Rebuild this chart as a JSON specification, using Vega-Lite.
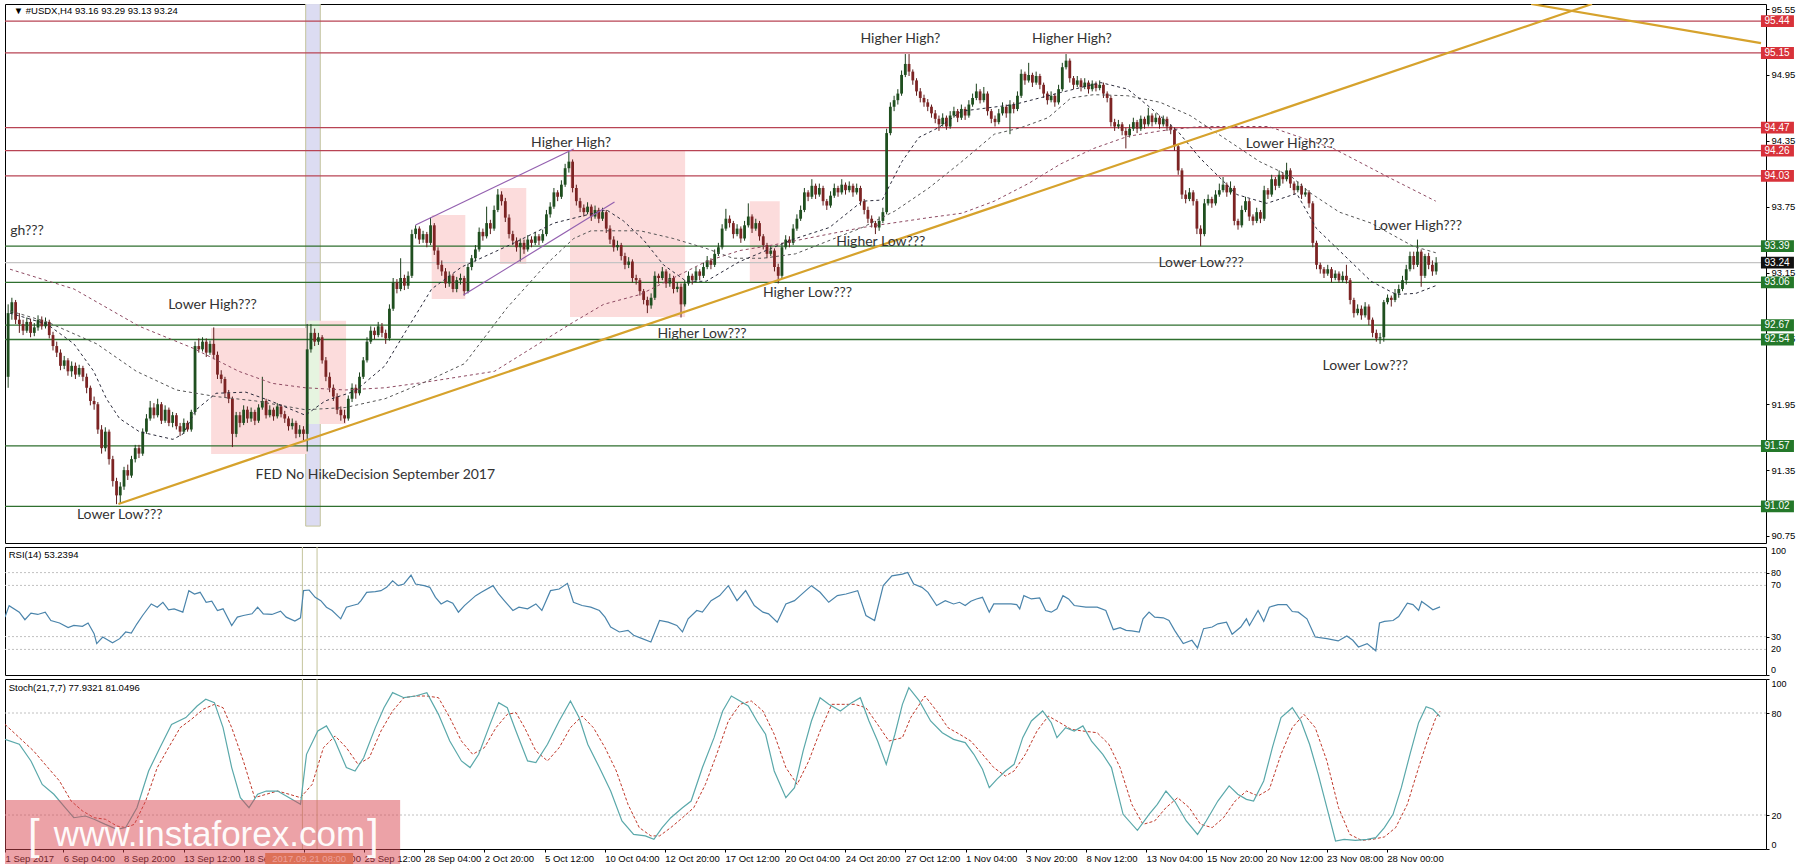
{
"$schema":"https://vega.github.io/schema/vega-lite/v6.json",
"padding":{"left":3,"top":3,"right":0,"bottom":0},
"background":"white",
"bounds":"flush",
"spacing":4,
"config":{"view":{"stroke":"#000","strokeWidth":1},"font":"Liberation Sans","axis":{"labelFont":"Liberation Sans","labelColor":"#000","tickColor":"#000","domain":false,"grid":false,"labelOverlap":false}},
"datasets":{
"candles":[
{"t":0,"o":92.2,"h":92.86,"l":92.1,"c":92.78},{"t":1,"o":92.78,"h":92.92,"l":92.72,"c":92.88},{"t":2,"o":92.88,"h":92.9,"l":92.68,"c":92.72},{"t":3,"o":92.72,"h":92.78,"l":92.6,"c":92.68},{"t":4,"o":92.68,"h":92.72,"l":92.58,"c":92.62},{"t":5,"o":92.62,"h":92.74,"l":92.6,"c":92.7},{"t":6,"o":92.7,"h":92.73,"l":92.56,"c":92.6},{"t":7,"o":92.6,"h":92.69,"l":92.57,"c":92.65},{"t":8,"o":92.65,"h":92.76,"l":92.62,"c":92.72},{"t":9,"o":92.72,"h":92.75,"l":92.63,"c":92.66},
{"t":10,"o":92.66,"h":92.74,"l":92.64,"c":92.7},{"t":11,"o":92.7,"h":92.72,"l":92.55,"c":92.58},{"t":12,"o":92.58,"h":92.61,"l":92.44,"c":92.48},{"t":13,"o":92.48,"h":92.52,"l":92.38,"c":92.42},{"t":14,"o":92.42,"h":92.45,"l":92.26,"c":92.3},{"t":15,"o":92.3,"h":92.39,"l":92.27,"c":92.35},{"t":16,"o":92.35,"h":92.37,"l":92.21,"c":92.25},{"t":17,"o":92.25,"h":92.34,"l":92.2,"c":92.3},{"t":18,"o":92.3,"h":92.33,"l":92.18,"c":92.22},{"t":19,"o":92.22,"h":92.31,"l":92.2,"c":92.28},
{"t":20,"o":92.28,"h":92.3,"l":92.16,"c":92.2},{"t":21,"o":92.2,"h":92.23,"l":92.05,"c":92.1},{"t":22,"o":92.1,"h":92.12,"l":91.94,"c":91.98},{"t":23,"o":91.98,"h":92.02,"l":91.9,"c":91.95},{"t":24,"o":91.95,"h":91.97,"l":91.68,"c":91.72},{"t":25,"o":91.72,"h":91.76,"l":91.5,"c":91.55},{"t":26,"o":91.55,"h":91.74,"l":91.52,"c":91.7},{"t":27,"o":91.7,"h":91.72,"l":91.4,"c":91.45},{"t":28,"o":91.45,"h":91.48,"l":91.2,"c":91.25},{"t":29,"o":91.25,"h":91.28,"l":91.04,"c":91.12},
{"t":30,"o":91.12,"h":91.24,"l":91.05,"c":91.2},{"t":31,"o":91.2,"h":91.38,"l":91.17,"c":91.35},{"t":32,"o":91.35,"h":91.4,"l":91.26,"c":91.3},{"t":33,"o":91.3,"h":91.48,"l":91.28,"c":91.45},{"t":34,"o":91.45,"h":91.58,"l":91.42,"c":91.55},{"t":35,"o":91.55,"h":91.58,"l":91.46,"c":91.5},{"t":36,"o":91.5,"h":91.73,"l":91.48,"c":91.7},{"t":37,"o":91.7,"h":91.86,"l":91.68,"c":91.82},{"t":38,"o":91.82,"h":91.98,"l":91.8,"c":91.92},{"t":39,"o":91.92,"h":91.96,"l":91.82,"c":91.85},
{"t":40,"o":91.85,"h":92.0,"l":91.83,"c":91.95},{"t":41,"o":91.95,"h":91.97,"l":91.77,"c":91.8},{"t":42,"o":91.8,"h":91.94,"l":91.78,"c":91.9},{"t":43,"o":91.9,"h":91.92,"l":91.75,"c":91.78},{"t":44,"o":91.78,"h":91.88,"l":91.74,"c":91.85},{"t":45,"o":91.85,"h":91.87,"l":91.72,"c":91.75},{"t":46,"o":91.75,"h":91.78,"l":91.66,"c":91.7},{"t":47,"o":91.7,"h":91.82,"l":91.68,"c":91.78},{"t":48,"o":91.78,"h":91.8,"l":91.7,"c":91.72},{"t":49,"o":91.72,"h":91.9,"l":91.7,"c":91.88},
{"t":50,"o":91.88,"h":92.52,"l":91.85,"c":92.48},{"t":51,"o":92.48,"h":92.55,"l":92.42,"c":92.45},{"t":52,"o":92.45,"h":92.56,"l":92.43,"c":92.52},{"t":53,"o":92.52,"h":92.55,"l":92.38,"c":92.42},{"t":54,"o":92.42,"h":92.53,"l":92.4,"c":92.5},{"t":55,"o":92.5,"h":92.65,"l":92.36,"c":92.4},{"t":56,"o":92.4,"h":92.43,"l":92.18,"c":92.22},{"t":57,"o":92.22,"h":92.26,"l":92.14,"c":92.18},{"t":58,"o":92.18,"h":92.2,"l":92.01,"c":92.05},{"t":59,"o":92.05,"h":92.08,"l":91.96,"c":92.0},
{"t":60,"o":92.0,"h":92.02,"l":91.56,"c":91.68},{"t":61,"o":91.68,"h":91.88,"l":91.65,"c":91.85},{"t":62,"o":91.85,"h":91.88,"l":91.74,"c":91.78},{"t":63,"o":91.78,"h":91.94,"l":91.76,"c":91.9},{"t":64,"o":91.9,"h":91.93,"l":91.78,"c":91.82},{"t":65,"o":91.82,"h":91.92,"l":91.79,"c":91.88},{"t":66,"o":91.88,"h":91.9,"l":91.76,"c":91.8},{"t":67,"o":91.8,"h":91.95,"l":91.78,"c":91.92},{"t":68,"o":91.92,"h":92.2,"l":91.9,"c":91.98},{"t":69,"o":91.98,"h":92.0,"l":91.82,"c":91.85},
{"t":70,"o":91.85,"h":91.94,"l":91.83,"c":91.9},{"t":71,"o":91.9,"h":91.92,"l":91.8,"c":91.84},{"t":72,"o":91.84,"h":91.96,"l":91.82,"c":91.93},{"t":73,"o":91.93,"h":91.95,"l":91.83,"c":91.86},{"t":74,"o":91.86,"h":91.89,"l":91.78,"c":91.82},{"t":75,"o":91.82,"h":91.84,"l":91.71,"c":91.75},{"t":76,"o":91.75,"h":91.82,"l":91.72,"c":91.78},{"t":77,"o":91.78,"h":91.8,"l":91.64,"c":91.68},{"t":78,"o":91.68,"h":91.76,"l":91.65,"c":91.72},{"t":79,"o":91.72,"h":91.75,"l":91.62,"c":91.68},
{"t":80,"o":91.68,"h":92.68,"l":91.52,"c":92.45},{"t":81,"o":92.45,"h":92.68,"l":92.42,"c":92.6},{"t":82,"o":92.6,"h":92.64,"l":92.48,"c":92.52},{"t":83,"o":92.52,"h":92.6,"l":92.49,"c":92.56},{"t":84,"o":92.56,"h":92.58,"l":92.32,"c":92.35},{"t":85,"o":92.35,"h":92.38,"l":92.16,"c":92.2},{"t":86,"o":92.2,"h":92.24,"l":92.06,"c":92.1},{"t":87,"o":92.1,"h":92.13,"l":91.98,"c":92.02},{"t":88,"o":92.02,"h":92.05,"l":91.86,"c":91.9},{"t":89,"o":91.9,"h":91.93,"l":91.8,"c":91.85},
{"t":90,"o":91.85,"h":91.9,"l":91.78,"c":91.82},{"t":91,"o":91.82,"h":92.03,"l":91.8,"c":92.0},{"t":92,"o":92.0,"h":92.14,"l":91.97,"c":92.1},{"t":93,"o":92.1,"h":92.13,"l":92.0,"c":92.05},{"t":94,"o":92.05,"h":92.24,"l":92.03,"c":92.2},{"t":95,"o":92.2,"h":92.38,"l":92.18,"c":92.35},{"t":96,"o":92.35,"h":92.56,"l":92.33,"c":92.52},{"t":97,"o":92.52,"h":92.66,"l":92.5,"c":92.62},{"t":98,"o":92.62,"h":92.65,"l":92.54,"c":92.58},{"t":99,"o":92.58,"h":92.7,"l":92.56,"c":92.66},
{"t":100,"o":92.66,"h":92.69,"l":92.56,"c":92.6},{"t":101,"o":92.6,"h":92.63,"l":92.5,"c":92.55},{"t":102,"o":92.55,"h":92.86,"l":92.53,"c":92.82},{"t":103,"o":92.82,"h":93.1,"l":92.8,"c":93.06},{"t":104,"o":93.06,"h":93.09,"l":92.96,"c":93.0},{"t":105,"o":93.0,"h":93.28,"l":92.98,"c":93.1},{"t":106,"o":93.1,"h":93.13,"l":92.99,"c":93.03},{"t":107,"o":93.03,"h":93.16,"l":93.0,"c":93.12},{"t":108,"o":93.12,"h":93.54,"l":93.1,"c":93.5},{"t":109,"o":93.5,"h":93.58,"l":93.46,"c":93.55},
{"t":110,"o":93.55,"h":93.57,"l":93.41,"c":93.45},{"t":111,"o":93.45,"h":93.53,"l":93.42,"c":93.5},{"t":112,"o":93.5,"h":93.52,"l":93.38,"c":93.42},{"t":113,"o":93.42,"h":93.65,"l":93.4,"c":93.58},{"t":114,"o":93.58,"h":93.6,"l":93.31,"c":93.35},{"t":115,"o":93.35,"h":93.38,"l":93.18,"c":93.22},{"t":116,"o":93.22,"h":93.26,"l":93.12,"c":93.16},{"t":117,"o":93.16,"h":93.19,"l":93.01,"c":93.05},{"t":118,"o":93.05,"h":93.16,"l":93.02,"c":93.12},{"t":119,"o":93.12,"h":93.14,"l":92.97,"c":93.0},
{"t":120,"o":93.0,"h":93.11,"l":92.97,"c":93.08},{"t":121,"o":93.08,"h":93.14,"l":93.04,"c":93.1},{"t":122,"o":93.1,"h":93.12,"l":92.94,"c":92.98},{"t":123,"o":92.98,"h":93.23,"l":92.96,"c":93.2},{"t":124,"o":93.2,"h":93.31,"l":93.17,"c":93.28},{"t":125,"o":93.28,"h":93.4,"l":93.25,"c":93.36},{"t":126,"o":93.36,"h":93.56,"l":93.34,"c":93.52},{"t":127,"o":93.52,"h":93.55,"l":93.44,"c":93.48},{"t":128,"o":93.48,"h":93.75,"l":93.46,"c":93.6},{"t":129,"o":93.6,"h":93.63,"l":93.5,"c":93.55},
{"t":130,"o":93.55,"h":93.76,"l":93.53,"c":93.72},{"t":131,"o":93.72,"h":93.91,"l":93.7,"c":93.86},{"t":132,"o":93.86,"h":93.89,"l":93.76,"c":93.8},{"t":133,"o":93.8,"h":93.83,"l":93.61,"c":93.65},{"t":134,"o":93.65,"h":93.68,"l":93.46,"c":93.5},{"t":135,"o":93.5,"h":93.53,"l":93.4,"c":93.44},{"t":136,"o":93.44,"h":93.47,"l":93.34,"c":93.38},{"t":137,"o":93.38,"h":93.46,"l":93.25,"c":93.42},{"t":138,"o":93.42,"h":93.45,"l":93.32,"c":93.36},{"t":139,"o":93.36,"h":93.49,"l":93.34,"c":93.45},
{"t":140,"o":93.45,"h":93.48,"l":93.38,"c":93.42},{"t":141,"o":93.42,"h":93.52,"l":93.4,"c":93.48},{"t":142,"o":93.48,"h":93.5,"l":93.4,"c":93.44},{"t":143,"o":93.44,"h":93.54,"l":93.42,"c":93.5},{"t":144,"o":93.5,"h":93.72,"l":93.48,"c":93.68},{"t":145,"o":93.68,"h":93.79,"l":93.65,"c":93.75},{"t":146,"o":93.75,"h":93.92,"l":93.73,"c":93.88},{"t":147,"o":93.88,"h":93.9,"l":93.8,"c":93.84},{"t":148,"o":93.84,"h":93.99,"l":93.82,"c":93.95},{"t":149,"o":93.95,"h":94.14,"l":93.93,"c":94.1},
{"t":150,"o":94.1,"h":94.25,"l":94.06,"c":94.16},{"t":151,"o":94.16,"h":94.18,"l":93.88,"c":93.92},{"t":152,"o":93.92,"h":93.95,"l":93.76,"c":93.8},{"t":153,"o":93.8,"h":93.83,"l":93.7,"c":93.74},{"t":154,"o":93.74,"h":93.77,"l":93.66,"c":93.7},{"t":155,"o":93.7,"h":93.79,"l":93.68,"c":93.75},{"t":156,"o":93.75,"h":93.77,"l":93.62,"c":93.66},{"t":157,"o":93.66,"h":93.76,"l":93.64,"c":93.72},{"t":158,"o":93.72,"h":93.74,"l":93.6,"c":93.64},{"t":159,"o":93.64,"h":93.74,"l":93.62,"c":93.7},
{"t":160,"o":93.7,"h":93.72,"l":93.51,"c":93.55},{"t":161,"o":93.55,"h":93.58,"l":93.41,"c":93.45},{"t":162,"o":93.45,"h":93.48,"l":93.34,"c":93.38},{"t":163,"o":93.38,"h":93.44,"l":93.35,"c":93.4},{"t":164,"o":93.4,"h":93.42,"l":93.26,"c":93.3},{"t":165,"o":93.3,"h":93.33,"l":93.18,"c":93.22},{"t":166,"o":93.22,"h":93.29,"l":93.19,"c":93.25},{"t":167,"o":93.25,"h":93.27,"l":93.06,"c":93.1},{"t":168,"o":93.1,"h":93.13,"l":93.04,"c":93.08},{"t":169,"o":93.08,"h":93.1,"l":92.94,"c":92.98},
{"t":170,"o":92.98,"h":93.0,"l":92.86,"c":92.9},{"t":171,"o":92.9,"h":92.93,"l":92.78,"c":92.85},{"t":172,"o":92.85,"h":92.96,"l":92.82,"c":92.92},{"t":173,"o":92.92,"h":93.16,"l":92.9,"c":93.12},{"t":174,"o":93.12,"h":93.14,"l":93.05,"c":93.1},{"t":175,"o":93.1,"h":93.2,"l":93.08,"c":93.16},{"t":176,"o":93.16,"h":93.18,"l":93.01,"c":93.05},{"t":177,"o":93.05,"h":93.14,"l":93.02,"c":93.1},{"t":178,"o":93.1,"h":93.12,"l":92.96,"c":93.0},{"t":179,"o":93.0,"h":93.06,"l":92.97,"c":93.02},
{"t":180,"o":93.02,"h":93.05,"l":92.74,"c":92.86},{"t":181,"o":92.86,"h":93.08,"l":92.84,"c":93.05},{"t":182,"o":93.05,"h":93.16,"l":93.03,"c":93.12},{"t":183,"o":93.12,"h":93.14,"l":93.04,"c":93.08},{"t":184,"o":93.08,"h":93.2,"l":93.06,"c":93.16},{"t":185,"o":93.16,"h":93.18,"l":93.08,"c":93.12},{"t":186,"o":93.12,"h":93.24,"l":93.1,"c":93.2},{"t":187,"o":93.2,"h":93.3,"l":93.18,"c":93.26},{"t":188,"o":93.26,"h":93.28,"l":93.18,"c":93.22},{"t":189,"o":93.22,"h":93.36,"l":93.2,"c":93.32},
{"t":190,"o":93.32,"h":93.42,"l":93.3,"c":93.38},{"t":191,"o":93.38,"h":93.59,"l":93.36,"c":93.55},{"t":192,"o":93.55,"h":93.73,"l":93.53,"c":93.64},{"t":193,"o":93.64,"h":93.67,"l":93.56,"c":93.6},{"t":194,"o":93.6,"h":93.62,"l":93.46,"c":93.5},{"t":195,"o":93.5,"h":93.59,"l":93.48,"c":93.55},{"t":196,"o":93.55,"h":93.57,"l":93.42,"c":93.46},{"t":197,"o":93.46,"h":93.62,"l":93.44,"c":93.58},{"t":198,"o":93.58,"h":93.78,"l":93.56,"c":93.66},{"t":199,"o":93.66,"h":93.68,"l":93.51,"c":93.55},
{"t":200,"o":93.55,"h":93.64,"l":93.53,"c":93.6},{"t":201,"o":93.6,"h":93.62,"l":93.44,"c":93.48},{"t":202,"o":93.48,"h":93.5,"l":93.36,"c":93.4},{"t":203,"o":93.4,"h":93.42,"l":93.28,"c":93.32},{"t":204,"o":93.32,"h":93.39,"l":93.3,"c":93.35},{"t":205,"o":93.35,"h":93.37,"l":93.16,"c":93.2},{"t":206,"o":93.2,"h":93.23,"l":93.05,"c":93.12},{"t":207,"o":93.12,"h":93.42,"l":93.1,"c":93.38},{"t":208,"o":93.38,"h":93.49,"l":93.36,"c":93.45},{"t":209,"o":93.45,"h":93.48,"l":93.38,"c":93.42},
{"t":210,"o":93.42,"h":93.59,"l":93.4,"c":93.55},{"t":211,"o":93.55,"h":93.68,"l":93.53,"c":93.64},{"t":212,"o":93.64,"h":93.76,"l":93.62,"c":93.72},{"t":213,"o":93.72,"h":93.92,"l":93.7,"c":93.88},{"t":214,"o":93.88,"h":93.9,"l":93.8,"c":93.84},{"t":215,"o":93.84,"h":94.0,"l":93.82,"c":93.94},{"t":216,"o":93.94,"h":93.96,"l":93.82,"c":93.86},{"t":217,"o":93.86,"h":93.96,"l":93.84,"c":93.92},{"t":218,"o":93.92,"h":93.94,"l":93.76,"c":93.8},{"t":219,"o":93.8,"h":93.82,"l":93.72,"c":93.76},
{"t":220,"o":93.76,"h":93.89,"l":93.74,"c":93.85},{"t":221,"o":93.85,"h":93.96,"l":93.83,"c":93.92},{"t":222,"o":93.92,"h":93.94,"l":93.84,"c":93.88},{"t":223,"o":93.88,"h":94.0,"l":93.86,"c":93.95},{"t":224,"o":93.95,"h":93.97,"l":93.86,"c":93.9},{"t":225,"o":93.9,"h":93.98,"l":93.88,"c":93.94},{"t":226,"o":93.94,"h":93.96,"l":93.84,"c":93.88},{"t":227,"o":93.88,"h":93.96,"l":93.86,"c":93.92},{"t":228,"o":93.92,"h":93.94,"l":93.76,"c":93.8},{"t":229,"o":93.8,"h":93.82,"l":93.68,"c":93.72},
{"t":230,"o":93.72,"h":93.75,"l":93.6,"c":93.64},{"t":231,"o":93.64,"h":93.67,"l":93.56,"c":93.6},{"t":232,"o":93.6,"h":93.62,"l":93.5,"c":93.56},{"t":233,"o":93.56,"h":93.66,"l":93.53,"c":93.62},{"t":234,"o":93.62,"h":93.74,"l":93.6,"c":93.7},{"t":235,"o":93.7,"h":94.46,"l":93.68,"c":94.42},{"t":236,"o":94.42,"h":94.7,"l":94.4,"c":94.66},{"t":237,"o":94.66,"h":94.76,"l":94.62,"c":94.72},{"t":238,"o":94.72,"h":94.82,"l":94.68,"c":94.78},{"t":239,"o":94.78,"h":94.99,"l":94.76,"c":94.95},
{"t":240,"o":94.95,"h":95.14,"l":94.93,"c":95.05},{"t":241,"o":95.05,"h":95.14,"l":94.94,"c":94.98},{"t":242,"o":94.98,"h":95.0,"l":94.86,"c":94.9},{"t":243,"o":94.9,"h":94.92,"l":94.76,"c":94.8},{"t":244,"o":94.8,"h":94.83,"l":94.7,"c":94.74},{"t":245,"o":94.74,"h":94.77,"l":94.66,"c":94.7},{"t":246,"o":94.7,"h":94.73,"l":94.62,"c":94.66},{"t":247,"o":94.66,"h":94.68,"l":94.56,"c":94.6},{"t":248,"o":94.6,"h":94.63,"l":94.51,"c":94.55},{"t":249,"o":94.55,"h":94.58,"l":94.44,"c":94.5},
{"t":250,"o":94.5,"h":94.6,"l":94.48,"c":94.56},{"t":251,"o":94.56,"h":94.58,"l":94.45,"c":94.48},{"t":252,"o":94.48,"h":94.62,"l":94.46,"c":94.58},{"t":253,"o":94.58,"h":94.66,"l":94.56,"c":94.62},{"t":254,"o":94.62,"h":94.64,"l":94.52,"c":94.56},{"t":255,"o":94.56,"h":94.68,"l":94.54,"c":94.64},{"t":256,"o":94.64,"h":94.66,"l":94.54,"c":94.58},{"t":257,"o":94.58,"h":94.72,"l":94.56,"c":94.68},{"t":258,"o":94.68,"h":94.78,"l":94.66,"c":94.74},{"t":259,"o":94.74,"h":94.87,"l":94.72,"c":94.8},
{"t":260,"o":94.8,"h":94.82,"l":94.69,"c":94.72},{"t":261,"o":94.72,"h":94.84,"l":94.7,"c":94.78},{"t":262,"o":94.78,"h":94.8,"l":94.58,"c":94.62},{"t":263,"o":94.62,"h":94.64,"l":94.51,"c":94.55},{"t":264,"o":94.55,"h":94.58,"l":94.48,"c":94.52},{"t":265,"o":94.52,"h":94.64,"l":94.5,"c":94.6},{"t":266,"o":94.6,"h":94.7,"l":94.58,"c":94.66},{"t":267,"o":94.66,"h":94.68,"l":94.56,"c":94.6},{"t":268,"o":94.6,"h":94.72,"l":94.41,"c":94.68},{"t":269,"o":94.68,"h":94.7,"l":94.6,"c":94.64},
{"t":270,"o":94.64,"h":94.8,"l":94.62,"c":94.76},{"t":271,"o":94.76,"h":95.0,"l":94.74,"c":94.96},{"t":272,"o":94.96,"h":94.98,"l":94.86,"c":94.9},{"t":273,"o":94.9,"h":95.06,"l":94.88,"c":94.95},{"t":274,"o":94.95,"h":94.97,"l":94.84,"c":94.88},{"t":275,"o":94.88,"h":94.98,"l":94.86,"c":94.94},{"t":276,"o":94.94,"h":94.96,"l":94.82,"c":94.86},{"t":277,"o":94.86,"h":94.88,"l":94.74,"c":94.78},{"t":278,"o":94.78,"h":94.8,"l":94.68,"c":94.72},{"t":279,"o":94.72,"h":94.8,"l":94.7,"c":94.76},
{"t":280,"o":94.76,"h":94.78,"l":94.66,"c":94.7},{"t":281,"o":94.7,"h":94.86,"l":94.68,"c":94.82},{"t":282,"o":94.82,"h":95.06,"l":94.8,"c":95.02},{"t":283,"o":95.02,"h":95.14,"l":95.0,"c":95.08},{"t":284,"o":95.08,"h":95.1,"l":94.88,"c":94.92},{"t":285,"o":94.92,"h":94.94,"l":94.82,"c":94.86},{"t":286,"o":94.86,"h":94.94,"l":94.84,"c":94.9},{"t":287,"o":94.9,"h":94.92,"l":94.8,"c":94.84},{"t":288,"o":94.84,"h":94.92,"l":94.82,"c":94.88},{"t":289,"o":94.88,"h":94.9,"l":94.78,"c":94.82},
{"t":290,"o":94.82,"h":94.9,"l":94.8,"c":94.87},{"t":291,"o":94.87,"h":94.89,"l":94.8,"c":94.83},{"t":292,"o":94.83,"h":94.9,"l":94.81,"c":94.86},{"t":293,"o":94.86,"h":94.88,"l":94.74,"c":94.78},{"t":294,"o":94.78,"h":94.8,"l":94.7,"c":94.74},{"t":295,"o":94.74,"h":94.76,"l":94.48,"c":94.52},{"t":296,"o":94.52,"h":94.55,"l":94.44,"c":94.48},{"t":297,"o":94.48,"h":94.54,"l":94.46,"c":94.5},{"t":298,"o":94.5,"h":94.52,"l":94.4,"c":94.44},{"t":299,"o":94.44,"h":94.47,"l":94.28,"c":94.4},
{"t":300,"o":94.4,"h":94.5,"l":94.38,"c":94.46},{"t":301,"o":94.46,"h":94.56,"l":94.44,"c":94.52},{"t":302,"o":94.52,"h":94.54,"l":94.42,"c":94.46},{"t":303,"o":94.46,"h":94.58,"l":94.44,"c":94.55},{"t":304,"o":94.55,"h":94.57,"l":94.46,"c":94.5},{"t":305,"o":94.5,"h":94.65,"l":94.48,"c":94.58},{"t":306,"o":94.58,"h":94.6,"l":94.48,"c":94.52},{"t":307,"o":94.52,"h":94.6,"l":94.5,"c":94.56},{"t":308,"o":94.56,"h":94.58,"l":94.46,"c":94.5},{"t":309,"o":94.5,"h":94.58,"l":94.48,"c":94.55},
{"t":310,"o":94.55,"h":94.57,"l":94.44,"c":94.48},{"t":311,"o":94.48,"h":94.5,"l":94.41,"c":94.45},{"t":312,"o":94.45,"h":94.47,"l":94.26,"c":94.3},{"t":313,"o":94.3,"h":94.32,"l":94.04,"c":94.08},{"t":314,"o":94.08,"h":94.1,"l":93.82,"c":93.86},{"t":315,"o":93.86,"h":93.9,"l":93.78,"c":93.82},{"t":316,"o":93.82,"h":93.92,"l":93.8,"c":93.88},{"t":317,"o":93.88,"h":93.9,"l":93.76,"c":93.8},{"t":318,"o":93.8,"h":93.82,"l":93.5,"c":93.55},{"t":319,"o":93.55,"h":93.58,"l":93.39,"c":93.5},
{"t":320,"o":93.5,"h":93.82,"l":93.48,"c":93.78},{"t":321,"o":93.78,"h":93.86,"l":93.76,"c":93.82},{"t":322,"o":93.82,"h":93.84,"l":93.74,"c":93.78},{"t":323,"o":93.78,"h":93.9,"l":93.76,"c":93.86},{"t":324,"o":93.86,"h":93.96,"l":93.84,"c":93.9},{"t":325,"o":93.9,"h":94.02,"l":93.88,"c":93.95},{"t":326,"o":93.95,"h":93.97,"l":93.84,"c":93.88},{"t":327,"o":93.88,"h":93.98,"l":93.86,"c":93.92},{"t":328,"o":93.92,"h":93.94,"l":93.58,"c":93.62},{"t":329,"o":93.62,"h":93.64,"l":93.54,"c":93.58},
{"t":330,"o":93.58,"h":93.76,"l":93.56,"c":93.72},{"t":331,"o":93.72,"h":93.84,"l":93.7,"c":93.8},{"t":332,"o":93.8,"h":93.82,"l":93.62,"c":93.66},{"t":333,"o":93.66,"h":93.68,"l":93.58,"c":93.62},{"t":334,"o":93.62,"h":93.74,"l":93.6,"c":93.7},{"t":335,"o":93.7,"h":93.72,"l":93.6,"c":93.64},{"t":336,"o":93.64,"h":93.94,"l":93.62,"c":93.9},{"t":337,"o":93.9,"h":93.92,"l":93.82,"c":93.86},{"t":338,"o":93.86,"h":94.04,"l":93.84,"c":94.0},{"t":339,"o":94.0,"h":94.02,"l":93.9,"c":93.94},
{"t":340,"o":93.94,"h":94.08,"l":93.92,"c":94.04},{"t":341,"o":94.04,"h":94.06,"l":93.96,"c":94.0},{"t":342,"o":94.0,"h":94.15,"l":93.98,"c":94.08},{"t":343,"o":94.08,"h":94.1,"l":93.92,"c":93.96},{"t":344,"o":93.96,"h":93.98,"l":93.86,"c":93.9},{"t":345,"o":93.9,"h":93.98,"l":93.88,"c":93.94},{"t":346,"o":93.94,"h":93.96,"l":93.82,"c":93.86},{"t":347,"o":93.86,"h":93.92,"l":93.84,"c":93.88},{"t":348,"o":93.88,"h":93.9,"l":93.74,"c":93.78},{"t":349,"o":93.78,"h":93.8,"l":93.38,"c":93.42},
{"t":350,"o":93.42,"h":93.44,"l":93.18,"c":93.22},{"t":351,"o":93.22,"h":93.24,"l":93.14,"c":93.18},{"t":352,"o":93.18,"h":93.2,"l":93.1,"c":93.14},{"t":353,"o":93.14,"h":93.22,"l":93.12,"c":93.18},{"t":354,"o":93.18,"h":93.2,"l":93.06,"c":93.1},{"t":355,"o":93.1,"h":93.17,"l":93.08,"c":93.14},{"t":356,"o":93.14,"h":93.16,"l":93.06,"c":93.08},{"t":357,"o":93.08,"h":93.16,"l":93.06,"c":93.12},{"t":358,"o":93.12,"h":93.22,"l":93.05,"c":93.08},{"t":359,"o":93.08,"h":93.1,"l":92.86,"c":92.9},
{"t":360,"o":92.9,"h":92.92,"l":92.74,"c":92.78},{"t":361,"o":92.78,"h":92.86,"l":92.76,"c":92.82},{"t":362,"o":92.82,"h":92.85,"l":92.72,"c":92.76},{"t":363,"o":92.76,"h":92.88,"l":92.74,"c":92.84},{"t":364,"o":92.84,"h":92.86,"l":92.67,"c":92.72},{"t":365,"o":92.72,"h":92.74,"l":92.56,"c":92.6},{"t":366,"o":92.6,"h":92.63,"l":92.52,"c":92.55},{"t":367,"o":92.55,"h":92.6,"l":92.5,"c":92.56},{"t":368,"o":92.56,"h":92.9,"l":92.52,"c":92.88},{"t":369,"o":92.88,"h":92.95,"l":92.86,"c":92.92},
{"t":370,"o":92.92,"h":92.94,"l":92.84,"c":92.9},{"t":371,"o":92.9,"h":93.0,"l":92.88,"c":92.96},{"t":372,"o":92.96,"h":93.04,"l":92.92,"c":93.0},{"t":373,"o":93.0,"h":93.12,"l":92.98,"c":93.08},{"t":374,"o":93.08,"h":93.22,"l":93.04,"c":93.18},{"t":375,"o":93.18,"h":93.34,"l":93.16,"c":93.3},{"t":376,"o":93.3,"h":93.34,"l":93.18,"c":93.22},{"t":377,"o":93.22,"h":93.45,"l":93.2,"c":93.34},{"t":378,"o":93.34,"h":93.36,"l":93.02,"c":93.12},{"t":379,"o":93.12,"h":93.32,"l":93.1,"c":93.3},
{"t":380,"o":93.3,"h":93.33,"l":93.18,"c":93.22},{"t":381,"o":93.22,"h":93.26,"l":93.12,"c":93.16},{"t":382,"o":93.16,"h":93.29,"l":93.13,"c":93.24}
],
"ma":[
{"m":"f","i":0.5,"p":92.78},{"m":"f","i":10.4,"p":92.68},{"m":"f","i":17.6,"p":92.5},{"m":"f","i":22.9,"p":92.25},{"m":"f","i":26.3,"p":92.0},{"m":"f","i":29.8,"p":91.82},{"m":"f","i":35.1,"p":91.7},{"m":"f","i":44.1,"p":91.63},{"m":"f","i":46.8,"p":91.68},{"m":"f","i":50.3,"p":91.9},{"m":"f","i":55.6,"p":92.05},{"m":"f","i":63.6,"p":92.06},{"m":"f","i":70.2,"p":91.98},{"m":"f","i":79.5,"p":91.85},{"m":"f","i":84.8,"p":91.98},{"m":"f","i":92.8,"p":92.07},{"m":"f","i":100.8,"p":92.3},{"m":"f","i":106.1,"p":92.6},{"m":"f","i":113.3,"p":93.0},{"m":"f","i":121.3,"p":93.2},{"m":"f","i":135.4,"p":93.42},{"m":"f","i":146.0,"p":93.6},{"m":"f","i":160.1,"p":93.72},{"m":"f","i":164.6,"p":93.62},{"m":"f","i":169.9,"p":93.45},{"m":"f","i":175.3,"p":93.22},{"m":"f","i":181.4,"p":93.07},{"m":"f","i":186.7,"p":93.07},{"m":"f","i":195.7,"p":93.25},{"m":"f","i":209.8,"p":93.45},{"m":"f","i":219.7,"p":93.56},{"m":"f","i":228.5,"p":93.8},{"m":"f","i":233.8,"p":93.81},{"m":"f","i":239.1,"p":94.16},{"m":"f","i":243.6,"p":94.38},{"m":"f","i":248.9,"p":94.47},{"m":"f","i":255.1,"p":94.62},{"m":"f","i":269.1,"p":94.68},{"m":"f","i":281.6,"p":94.79},{"m":"f","i":292.3,"p":94.88},{"m":"f","i":299.5,"p":94.82},{"m":"f","i":305.6,"p":94.65},{"m":"f","i":312.8,"p":94.44},{"m":"f","i":318.9,"p":94.19},{"m":"f","i":328.7,"p":93.86},{"m":"f","i":336.7,"p":93.78},{"m":"f","i":344.7,"p":93.87},{"m":"f","i":350.0,"p":93.55},{"m":"f","i":356.1,"p":93.35},{"m":"f","i":364.6,"p":93.07},{"m":"f","i":371.3,"p":92.95},{"m":"f","i":376.6,"p":92.96},{"m":"f","i":381.9,"p":93.03},
{"m":"m","i":0.5,"p":92.8},{"m":"m","i":10.4,"p":92.7},{"m":"m","i":23.7,"p":92.5},{"m":"m","i":34.3,"p":92.25},{"m":"m","i":45.0,"p":92.08},{"m":"m","i":55.6,"p":92.02},{"m":"m","i":66.2,"p":91.98},{"m":"m","i":79.5,"p":91.9},{"m":"m","i":90.2,"p":91.92},{"m":"m","i":100.8,"p":92.0},{"m":"m","i":111.4,"p":92.15},{"m":"m","i":122.1,"p":92.32},{"m":"m","i":133.5,"p":92.83},{"m":"m","i":144.1,"p":93.23},{"m":"m","i":151.3,"p":93.46},{"m":"m","i":155.9,"p":93.53},{"m":"m","i":169.1,"p":93.53},{"m":"m","i":177.9,"p":93.46},{"m":"m","i":186.7,"p":93.37},{"m":"m","i":193.9,"p":93.28},{"m":"m","i":201.9,"p":93.28},{"m":"m","i":210.6,"p":93.32},{"m":"m","i":228.5,"p":93.56},{"m":"m","i":237.2,"p":93.71},{"m":"m","i":246.3,"p":93.92},{"m":"m","i":255.1,"p":94.16},{"m":"m","i":263.8,"p":94.41},{"m":"m","i":271.0,"p":94.47},{"m":"m","i":278.2,"p":94.56},{"m":"m","i":284.3,"p":94.74},{"m":"m","i":290.4,"p":94.77},{"m":"m","i":299.5,"p":94.76},{"m":"m","i":308.2,"p":94.7},{"m":"m","i":316.2,"p":94.58},{"m":"m","i":324.2,"p":94.4},{"m":"m","i":334.8,"p":94.16},{"m":"m","i":343.4,"p":94.02},{"m":"m","i":348.1,"p":93.88},{"m":"m","i":356.1,"p":93.7},{"m":"m","i":364.6,"p":93.6},{"m":"m","i":375.8,"p":93.39},{"m":"m","i":381.9,"p":93.33},
{"m":"s","i":0.5,"p":93.18},{"m":"s","i":17.6,"p":93.0},{"m":"s","i":35.1,"p":92.66},{"m":"s","i":49.5,"p":92.46},{"m":"s","i":61.7,"p":92.25},{"m":"s","i":70.7,"p":92.14},{"m":"s","i":79.5,"p":92.1},{"m":"s","i":90.2,"p":92.08},{"m":"s","i":100.8,"p":92.1},{"m":"s","i":111.4,"p":92.15},{"m":"s","i":130.1,"p":92.25},{"m":"s","i":151.3,"p":92.7},{"m":"s","i":159.3,"p":92.86},{"m":"s","i":169.1,"p":92.95},{"m":"s","i":177.9,"p":93.1},{"m":"s","i":186.7,"p":93.25},{"m":"s","i":195.7,"p":93.35},{"m":"s","i":204.5,"p":93.4},{"m":"s","i":210.6,"p":93.44},{"m":"s","i":228.5,"p":93.56},{"m":"s","i":246.3,"p":93.65},{"m":"s","i":255.1,"p":93.69},{"m":"s","i":263.8,"p":93.8},{"m":"s","i":272.9,"p":93.96},{"m":"s","i":281.6,"p":94.14},{"m":"s","i":290.4,"p":94.28},{"m":"s","i":299.5,"p":94.39},{"m":"s","i":308.2,"p":94.44},{"m":"s","i":318.9,"p":94.48},{"m":"s","i":337.2,"p":94.48},{"m":"s","i":354.5,"p":94.28},{"m":"s","i":369.7,"p":94.01},{"m":"s","i":381.9,"p":93.8}
],
"levels":[{"p":95.44,"k":"r"},{"p":95.15,"k":"r"},{"p":94.47,"k":"r"},{"p":94.26,"k":"r"},{"p":94.03,"k":"r"},{"p":93.39,"k":"g"},{"p":93.24,"k":"b"},{"p":93.06,"k":"g"},{"p":92.67,"k":"g"},{"p":92.54,"k":"g"},{"p":91.57,"k":"g"},{"p":91.02,"k":"g"}],
"boxes":[{"a":54.3,"b":80.1,"lo":91.497,"hi":92.645},{"a":80.1,"b":90.4,"lo":91.77,"hi":92.71},{"a":113.3,"b":122.3,"lo":92.909,"hi":93.674},{"a":131.6,"b":138.6,"lo":93.228,"hi":93.92},{"a":150.3,"b":181.1,"lo":92.745,"hi":94.257},{"a":198.4,"b":206.4,"lo":93.055,"hi":93.8}],
"lines":[{"n":"cu","i":109.0,"p":93.583},{"n":"cu","i":151.3,"p":94.275},{"n":"cd","i":121.8,"p":92.945},{"n":"cd","i":162.2,"p":93.792}],
"trend":[{"n":"t1","i":29.5,"p":91.042},{"n":"t1","i":423.7,"p":95.596},{"n":"t2","i":407.4,"p":95.596},{"n":"t2","i":468.9,"p":95.24}],
"notes":[{"i":139.9,"p":94.33,"t":"Higher High?"},{"i":228.0,"p":95.277,"t":"Higher High?"},{"i":273.9,"p":95.277,"t":"Higher High?"},{"i":331.1,"p":94.32,"t":"Lower  High???"},{"i":365.2,"p":93.574,"t":"Lower  High???"},{"i":307.7,"p":93.237,"t":"Lower  Low???"},{"i":351.6,"p":92.299,"t":"Lower  Low???"},{"i":221.5,"p":93.428,"t":"Higher Low???"},{"i":201.9,"p":92.963,"t":"Higher Low???"},{"i":173.7,"p":92.59,"t":"Higher Low???"},{"i":42.8,"p":92.854,"t":"Lower High???"},{"i":66.2,"p":91.306,"t":"FED No HikeDecision September 2017"},{"i":18.4,"p":90.942,"t":"Lower Low???"},{"i":0.55,"p":93.528,"t":"gh???"}],
"rsi":[
{"i":0.5,"v":45.2},{"i":1.6,"v":54.2},{"i":4.3,"v":49.1},{"i":5.8,"v":43.2},{"i":7.4,"v":48.3},{"i":9.2,"v":47.3},{"i":11.2,"v":49.1},{"i":12.7,"v":42.6},{"i":15.0,"v":40.6},{"i":17.3,"v":37.0},{"i":18.8,"v":38.7},{"i":21.1,"v":38.0},{"i":22.6,"v":40.6},{"i":24.2,"v":32.3},{"i":24.9,"v":24.5},{"i":26.5,"v":29.7},{"i":29.1,"v":25.1},{"i":31.0,"v":28.4},{"i":32.6,"v":33.6},{"i":34.1,"v":32.8},{"i":35.6,"v":40.0},{"i":37.1,"v":46.5},{"i":39.4,"v":55.5},{"i":41.0,"v":53.0},{"i":42.5,"v":56.8},{"i":44.0,"v":50.9},{"i":45.5,"v":51.7},{"i":47.8,"v":49.1},{"i":49.4,"v":65.9},{"i":50.9,"v":63.3},{"i":52.4,"v":64.6},{"i":54.0,"v":56.8},{"i":55.5,"v":57.6},{"i":57.0,"v":50.4},{"i":58.5,"v":51.7},{"i":60.8,"v":38.7},{"i":62.3,"v":45.2},{"i":63.9,"v":46.5},{"i":66.2,"v":47.8},{"i":67.7,"v":53.0},{"i":69.2,"v":47.8},{"i":71.5,"v":47.3},{"i":73.8,"v":49.9},{"i":75.3,"v":45.2},{"i":77.6,"v":42.1},{"i":79.1,"v":44.7},{"i":79.9,"v":65.9},{"i":81.4,"v":66.4},{"i":83.0,"v":60.7},{"i":84.5,"v":58.1},{"i":86.0,"v":53.0},{"i":87.5,"v":50.4},{"i":89.8,"v":43.9},{"i":91.3,"v":53.0},{"i":92.9,"v":54.3},{"i":94.4,"v":55.5},{"i":95.2,"v":58.1},{"i":96.7,"v":64.6},{"i":99.0,"v":65.1},{"i":100.5,"v":65.9},{"i":102.0,"v":68.5},{"i":103.6,"v":73.6},{"i":105.1,"v":69.8},{"i":106.6,"v":71.1},{"i":108.5,"v":78.0},{"i":109.7,"v":71.1},{"i":112.0,"v":69.8},{"i":113.5,"v":68.5},{"i":115.0,"v":60.7},{"i":116.5,"v":55.5},{"i":118.1,"v":58.1},{"i":119.6,"v":56.1},{"i":121.1,"v":49.1},{"i":122.7,"v":54.2},{"i":124.2,"v":58.1},{"i":125.7,"v":62.0},{"i":127.2,"v":64.6},{"i":130.3,"v":69.8},{"i":131.8,"v":63.3},{"i":133.3,"v":58.1},{"i":135.6,"v":50.4},{"i":137.2,"v":53.0},{"i":139.5,"v":51.7},{"i":141.7,"v":55.5},{"i":143.3,"v":50.4},{"i":145.6,"v":65.9},{"i":147.9,"v":67.2},{"i":150.1,"v":71.6},{"i":151.7,"v":56.8},{"i":154.0,"v":54.3},{"i":156.3,"v":53.0},{"i":158.6,"v":50.4},{"i":160.1,"v":45.2},{"i":161.6,"v":37.5},{"i":163.9,"v":33.6},{"i":166.2,"v":34.9},{"i":167.7,"v":31.0},{"i":170.0,"v":28.4},{"i":172.3,"v":25.8},{"i":174.6,"v":42.6},{"i":176.9,"v":41.3},{"i":179.2,"v":38.7},{"i":180.7,"v":33.6},{"i":182.2,"v":43.9},{"i":184.5,"v":50.4},{"i":186.0,"v":49.1},{"i":188.3,"v":58.1},{"i":190.6,"v":62.0},{"i":192.9,"v":69.8},{"i":195.2,"v":58.1},{"i":197.5,"v":65.9},{"i":199.8,"v":54.3},{"i":202.1,"v":49.1},{"i":203.6,"v":47.8},{"i":205.9,"v":41.3},{"i":208.2,"v":55.5},{"i":210.5,"v":58.1},{"i":212.0,"v":62.0},{"i":213.5,"v":65.9},{"i":215.0,"v":69.8},{"i":217.3,"v":64.6},{"i":219.6,"v":56.8},{"i":221.9,"v":62.0},{"i":224.2,"v":63.3},{"i":227.3,"v":65.9},{"i":229.5,"v":46.5},{"i":231.8,"v":42.6},{"i":234.1,"v":69.8},{"i":236.4,"v":77.5},{"i":239.2,"v":78.8},{"i":240.6,"v":80.1},{"i":242.2,"v":71.1},{"i":244.4,"v":68.5},{"i":246.0,"v":64.6},{"i":248.3,"v":54.3},{"i":250.6,"v":58.1},{"i":252.8,"v":55.5},{"i":254.4,"v":56.8},{"i":255.9,"v":54.3},{"i":257.4,"v":57.6},{"i":258.9,"v":59.4},{"i":260.5,"v":60.7},{"i":262.3,"v":49.1},{"i":263.5,"v":55.5},{"i":265.8,"v":55.5},{"i":268.1,"v":55.5},{"i":269.6,"v":55.0},{"i":270.4,"v":51.7},{"i":271.5,"v":62.0},{"i":273.5,"v":59.4},{"i":275.7,"v":60.2},{"i":277.3,"v":50.4},{"i":278.8,"v":49.1},{"i":280.3,"v":51.7},{"i":281.9,"v":62.0},{"i":283.4,"v":59.4},{"i":284.9,"v":54.3},{"i":288.0,"v":53.0},{"i":291.0,"v":53.0},{"i":293.3,"v":50.4},{"i":295.3,"v":35.4},{"i":297.1,"v":37.0},{"i":298.7,"v":34.9},{"i":300.2,"v":34.4},{"i":302.2,"v":33.6},{"i":303.2,"v":43.9},{"i":304.8,"v":49.1},{"i":306.3,"v":45.2},{"i":308.6,"v":44.7},{"i":310.1,"v":42.6},{"i":311.6,"v":34.9},{"i":313.9,"v":24.5},{"i":316.2,"v":27.1},{"i":317.7,"v":21.2},{"i":319.3,"v":36.2},{"i":321.6,"v":37.5},{"i":323.1,"v":40.0},{"i":325.4,"v":41.3},{"i":326.9,"v":31.8},{"i":329.2,"v":37.5},{"i":330.7,"v":43.9},{"i":331.5,"v":38.7},{"i":333.8,"v":50.4},{"i":335.3,"v":41.9},{"i":336.8,"v":53.0},{"i":339.1,"v":55.0},{"i":341.4,"v":55.0},{"i":342.9,"v":49.6},{"i":344.5,"v":49.1},{"i":346.8,"v":43.9},{"i":349.0,"v":29.7},{"i":352.1,"v":28.4},{"i":355.1,"v":26.6},{"i":357.4,"v":30.5},{"i":359.0,"v":27.1},{"i":360.5,"v":21.9},{"i":362.8,"v":24.5},{"i":365.1,"v":18.9},{"i":366.1,"v":40.6},{"i":367.4,"v":41.9},{"i":369.7,"v":42.6},{"i":371.2,"v":45.7},{"i":373.5,"v":56.1},{"i":375.0,"v":55.0},{"i":376.5,"v":50.4},{"i":377.3,"v":57.4},{"i":378.8,"v":54.3},{"i":380.3,"v":50.9},{"i":382.2,"v":53.2}
],
"stm":[
{"i":0.5,"s":64.5},{"i":4.3,"s":61.6},{"i":7.4,"s":51.8},{"i":10.4,"s":38.0},{"i":13.5,"s":32.2},{"i":16.5,"s":24.3},{"i":18.8,"s":18.4},{"i":21.9,"s":19.4},{"i":24.2,"s":17.5},{"i":27.2,"s":14.5},{"i":30.3,"s":11.6},{"i":32.6,"s":12.6},{"i":35.6,"s":24.3},{"i":38.7,"s":45.9},{"i":41.7,"s":59.6},{"i":44.8,"s":73.3},{"i":48.6,"s":77.3},{"i":51.6,"s":84.1},{"i":53.9,"s":88.1},{"i":56.2,"s":86.1},{"i":58.5,"s":71.4},{"i":60.8,"s":47.9},{"i":63.1,"s":30.2},{"i":65.4,"s":24.3},{"i":67.7,"s":32.2},{"i":70.0,"s":34.1},{"i":73.0,"s":34.1},{"i":76.1,"s":30.2},{"i":79.1,"s":26.3},{"i":80.7,"s":55.7},{"i":83.7,"s":69.4},{"i":86.0,"s":72.4},{"i":88.3,"s":63.5},{"i":91.3,"s":47.9},{"i":93.6,"s":45.9},{"i":95.9,"s":53.7},{"i":99.0,"s":71.4},{"i":101.3,"s":83.1},{"i":103.6,"s":92.0},{"i":106.6,"s":89.0},{"i":109.7,"s":90.0},{"i":112.7,"s":92.0},{"i":115.8,"s":79.2},{"i":118.8,"s":63.5},{"i":121.9,"s":51.8},{"i":124.2,"s":47.9},{"i":126.5,"s":55.7},{"i":129.5,"s":73.3},{"i":131.8,"s":86.1},{"i":134.1,"s":83.1},{"i":136.4,"s":69.4},{"i":139.5,"s":51.8},{"i":141.7,"s":50.8},{"i":144.8,"s":61.6},{"i":147.9,"s":75.3},{"i":150.9,"s":87.1},{"i":153.2,"s":77.3},{"i":155.5,"s":61.6},{"i":158.6,"s":47.9},{"i":161.6,"s":34.1},{"i":164.6,"s":16.5},{"i":167.7,"s":8.6},{"i":170.8,"s":7.7},{"i":173.1,"s":5.7},{"i":175.3,"s":12.6},{"i":177.6,"s":18.4},{"i":180.7,"s":24.3},{"i":183.0,"s":28.2},{"i":186.0,"s":47.9},{"i":189.1,"s":65.5},{"i":191.4,"s":81.2},{"i":193.7,"s":90.0},{"i":196.0,"s":87.1},{"i":198.2,"s":84.1},{"i":200.5,"s":75.3},{"i":202.8,"s":67.5},{"i":205.1,"s":45.9},{"i":208.2,"s":30.2},{"i":210.5,"s":36.1},{"i":212.8,"s":57.7},{"i":215.0,"s":75.3},{"i":217.3,"s":89.0},{"i":219.6,"s":85.1},{"i":222.7,"s":81.2},{"i":225.7,"s":86.1},{"i":228.0,"s":89.0},{"i":230.3,"s":75.3},{"i":232.6,"s":63.5},{"i":234.9,"s":49.8},{"i":237.2,"s":67.5},{"i":239.2,"s":85.1},{"i":240.9,"s":94.9},{"i":243.7,"s":87.1},{"i":246.7,"s":75.3},{"i":249.8,"s":68.4},{"i":252.8,"s":64.5},{"i":255.9,"s":62.6},{"i":258.2,"s":55.7},{"i":260.5,"s":46.9},{"i":262.3,"s":36.1},{"i":264.3,"s":41.0},{"i":266.6,"s":45.9},{"i":268.9,"s":49.8},{"i":271.2,"s":65.5},{"i":273.5,"s":75.3},{"i":276.5,"s":81.2},{"i":278.8,"s":74.3},{"i":280.3,"s":65.5},{"i":282.6,"s":71.4},{"i":284.9,"s":69.4},{"i":287.2,"s":72.4},{"i":289.5,"s":63.5},{"i":292.5,"s":55.7},{"i":294.8,"s":47.9},{"i":297.9,"s":20.4},{"i":301.7,"s":11.0},{"i":304.8,"s":20.4},{"i":307.0,"s":26.3},{"i":309.3,"s":34.1},{"i":311.6,"s":28.2},{"i":314.7,"s":16.5},{"i":317.7,"s":8.6},{"i":320.0,"s":16.5},{"i":323.1,"s":28.2},{"i":326.1,"s":37.1},{"i":328.4,"s":32.2},{"i":330.7,"s":29.2},{"i":332.6,"s":28.2},{"i":335.3,"s":40.0},{"i":337.6,"s":59.6},{"i":339.9,"s":77.3},{"i":342.9,"s":83.1},{"i":345.2,"s":75.3},{"i":347.5,"s":61.6},{"i":349.8,"s":43.9},{"i":352.1,"s":24.3},{"i":354.4,"s":4.7},{"i":356.7,"s":5.7},{"i":359.7,"s":5.1},{"i":362.8,"s":5.7},{"i":365.1,"s":6.7},{"i":367.4,"s":12.6},{"i":369.7,"s":20.4},{"i":371.9,"s":36.1},{"i":374.2,"s":55.7},{"i":376.5,"s":74.3},{"i":378.5,"s":83.7},{"i":380.3,"s":82.2},{"i":382.2,"s":77.9}
],
"sts":[
{"i":0.5,"s":73.3},{"i":4.3,"s":65.5},{"i":8.1,"s":57.7},{"i":11.9,"s":47.9},{"i":15.0,"s":40.0},{"i":18.1,"s":28.2},{"i":21.1,"s":22.4},{"i":24.2,"s":18.4},{"i":27.2,"s":17.5},{"i":30.3,"s":13.5},{"i":32.6,"s":12.6},{"i":34.9,"s":14.5},{"i":37.9,"s":28.2},{"i":41.0,"s":47.9},{"i":44.0,"s":59.6},{"i":47.1,"s":71.4},{"i":50.1,"s":76.3},{"i":53.2,"s":82.2},{"i":56.2,"s":85.1},{"i":58.5,"s":83.1},{"i":60.8,"s":71.4},{"i":63.9,"s":51.8},{"i":66.9,"s":30.2},{"i":70.0,"s":32.2},{"i":73.0,"s":34.1},{"i":76.1,"s":32.2},{"i":79.1,"s":30.2},{"i":82.2,"s":38.0},{"i":85.2,"s":59.6},{"i":88.3,"s":66.5},{"i":91.3,"s":59.6},{"i":94.4,"s":49.8},{"i":97.4,"s":53.7},{"i":100.5,"s":69.4},{"i":103.6,"s":81.2},{"i":106.6,"s":89.0},{"i":109.7,"s":90.0},{"i":112.7,"s":90.0},{"i":115.8,"s":89.0},{"i":118.8,"s":77.3},{"i":121.9,"s":63.5},{"i":124.9,"s":55.7},{"i":128.0,"s":59.6},{"i":131.1,"s":71.4},{"i":134.1,"s":79.2},{"i":136.4,"s":80.2},{"i":138.7,"s":71.4},{"i":141.7,"s":57.7},{"i":144.8,"s":51.8},{"i":147.9,"s":59.6},{"i":150.9,"s":71.4},{"i":154.0,"s":78.2},{"i":157.0,"s":71.4},{"i":160.1,"s":59.6},{"i":163.1,"s":45.9},{"i":166.2,"s":26.3},{"i":169.2,"s":12.6},{"i":172.3,"s":7.7},{"i":174.6,"s":7.7},{"i":177.6,"s":12.6},{"i":180.7,"s":18.4},{"i":183.7,"s":24.3},{"i":186.8,"s":38.0},{"i":189.8,"s":55.7},{"i":192.9,"s":75.3},{"i":196.0,"s":85.1},{"i":199.0,"s":87.1},{"i":202.1,"s":81.2},{"i":205.1,"s":67.5},{"i":208.2,"s":47.9},{"i":211.2,"s":38.0},{"i":214.3,"s":51.8},{"i":217.3,"s":69.4},{"i":220.4,"s":85.1},{"i":223.4,"s":85.1},{"i":226.5,"s":85.1},{"i":229.5,"s":83.1},{"i":232.6,"s":73.3},{"i":235.6,"s":63.5},{"i":239.2,"s":65.5},{"i":241.4,"s":77.3},{"i":245.2,"s":90.0},{"i":248.3,"s":81.2},{"i":251.3,"s":71.4},{"i":254.4,"s":67.5},{"i":257.4,"s":63.5},{"i":260.5,"s":55.7},{"i":263.5,"s":47.9},{"i":266.6,"s":42.9},{"i":268.9,"s":45.9},{"i":271.9,"s":55.7},{"i":275.0,"s":69.4},{"i":278.0,"s":78.2},{"i":281.1,"s":74.3},{"i":284.1,"s":70.4},{"i":287.2,"s":69.4},{"i":291.0,"s":68.4},{"i":294.1,"s":61.6},{"i":297.1,"s":47.9},{"i":300.2,"s":26.3},{"i":303.2,"s":14.5},{"i":306.3,"s":16.5},{"i":309.3,"s":24.3},{"i":312.4,"s":30.2},{"i":315.5,"s":24.3},{"i":318.5,"s":14.5},{"i":321.6,"s":12.6},{"i":324.6,"s":18.4},{"i":327.7,"s":28.2},{"i":330.7,"s":34.1},{"i":333.8,"s":31.2},{"i":336.8,"s":35.1},{"i":339.9,"s":55.7},{"i":342.9,"s":71.4},{"i":346.0,"s":79.2},{"i":349.0,"s":71.4},{"i":352.1,"s":51.8},{"i":355.2,"s":24.3},{"i":358.2,"s":8.6},{"i":361.3,"s":5.1},{"i":364.3,"s":5.7},{"i":367.4,"s":7.1},{"i":370.4,"s":12.6},{"i":373.5,"s":26.3},{"i":376.5,"s":47.9},{"i":378.8,"s":63.5},{"i":381.1,"s":77.3},{"i":382.2,"s":81.0}
]
},
"vconcat":[
{"width":1761,"height":539,
"layer":[
{"data":{"values":[{}]},"mark":{"type":"rect","fill":"#dcdcf2","stroke":"#c4c49c","strokeWidth":1,"clip":true},"encoding":{"x":{"datum":79.6,"type":"quantitative","scale":{"domain":[0.5,468.9],"nice":false,"zero":false},"axis":null},"x2":{"datum":83.5},"y":{"datum":90.84,"type":"quantitative","scale":{"domain":[90.686,95.596],"nice":false,"zero":false},"axis":{"orient":"right","values":[90.75,91.05,91.35,91.65,91.95,92.25,92.55,92.85,93.15,93.45,93.75,94.05,94.35,94.65,94.95,95.25,95.55],"format":".2f","tickSize":3,"labelPadding":2,"labelFontSize":9.5,"labelOverlap":false,"title":null,"zindex":0}},"y2":{"datum":95.6}}},
{"data":{"name":"boxes"},"mark":{"type":"rect","fill":"#fcdcdc"},"encoding":{"x":{"field":"a","type":"quantitative"},"x2":{"field":"b"},"y":{"field":"lo","type":"quantitative"},"y2":{"field":"hi"}}},
{"data":{"values":[{}]},"mark":{"type":"rect","fill":"#e6f4e0"},"encoding":{"x":{"datum":80.3,"type":"quantitative"},"x2":{"datum":83.3},"y":{"datum":91.77,"type":"quantitative"},"y2":{"datum":92.71}}},
{"data":{"name":"levels"},"mark":{"type":"rule","strokeWidth":1.3},"encoding":{"y":{"field":"p","type":"quantitative"},"color":{"condition":[{"test":"datum.k=='r'","value":"#b84454"},{"test":"datum.k=='g'","value":"#2f6f2f"}],"value":"#c4c4c4"}}},
{"data":{"name":"candles"},"mark":{"type":"rule","strokeWidth":1,"clip":true},"encoding":{"x":{"field":"t","type":"quantitative"},"y":{"field":"l","type":"quantitative"},"y2":{"field":"h"},"color":{"condition":{"test":"datum.c>=datum.o","value":"#1b3f1b"},"value":"#5e1c1c"}}},
{"data":{"name":"candles"},"mark":{"type":"bar","width":2.8,"orient":"vertical","clip":true},"encoding":{"x":{"field":"t","type":"quantitative"},"y":{"field":"o","type":"quantitative"},"y2":{"field":"c"},"color":{"condition":{"test":"datum.c>=datum.o","value":"#1f4f1f"},"value":"#7d2424"}}},
{"data":{"name":"ma"},"transform":[{"filter":"datum.m=='s'"}],"mark":{"type":"line","color":"#8e4a62","strokeWidth":1,"strokeDash":[3,3],"clip":true},"encoding":{"x":{"field":"i","type":"quantitative"},"y":{"field":"p","type":"quantitative"}}},
{"data":{"name":"ma"},"transform":[{"filter":"datum.m=='m'"}],"mark":{"type":"line","color":"#555555","strokeWidth":1,"strokeDash":[3,3],"clip":true},"encoding":{"x":{"field":"i","type":"quantitative"},"y":{"field":"p","type":"quantitative"}}},
{"data":{"name":"ma"},"transform":[{"filter":"datum.m=='f'"}],"mark":{"type":"line","color":"#2a2a3a","strokeWidth":1,"strokeDash":[3,3],"clip":true},"encoding":{"x":{"field":"i","type":"quantitative"},"y":{"field":"p","type":"quantitative"}}},
{"data":{"name":"lines"},"mark":{"type":"line","color":"#9461b0","strokeWidth":1.2},"encoding":{"x":{"field":"i","type":"quantitative"},"y":{"field":"p","type":"quantitative"},"detail":{"field":"n"}}},
{"data":{"name":"trend"},"mark":{"type":"line","color":"#d6a22c","strokeWidth":2.2,"clip":true},"encoding":{"x":{"field":"i","type":"quantitative"},"y":{"field":"p","type":"quantitative"},"detail":{"field":"n"}}},
{"data":{"name":"notes"},"mark":{"type":"text","align":"left","baseline":"middle","font":"Lato","fontSize":14,"color":"#333333"},"encoding":{"x":{"field":"i","type":"quantitative"},"y":{"field":"p","type":"quantitative"},"text":{"field":"t"}}},
{"data":{"values":[{"t":"▼ #USDX,H4  93.16 93.29 93.13 93.24"}]},"mark":{"type":"text","align":"left","baseline":"middle","fontSize":9.5,"color":"#000"},"encoding":{"x":{"datum":1.5,"type":"quantitative"},"y":{"datum":95.53,"type":"quantitative"},"text":{"field":"t"}}},
{"data":{"name":"levels"},"mark":{"type":"point","shape":"M-1,-0.36H1V0.36H-1Z","filled":true,"opacity":1,"size":1089,"clip":false},"encoding":{"x":{"datum":473.3,"type":"quantitative"},"y":{"field":"p","type":"quantitative"},"color":{"condition":[{"test":"datum.k=='r'","value":"#d8323a"},{"test":"datum.k=='g'","value":"#24782a"}],"value":"#111111"}}},
{"data":{"name":"levels"},"mark":{"type":"text","align":"center","baseline":"middle","fontSize":10,"color":"#ffffff","clip":false},"encoding":{"x":{"datum":473.2,"type":"quantitative"},"y":{"field":"p","type":"quantitative"},"text":{"field":"p","format":".2f"}}}
]},
{"width":1761,"height":128,
"layer":[
{"data":{"values":[{"g":20},{"g":30},{"g":70},{"g":80}]},"mark":{"type":"rule","color":"#c0c0c0","strokeDash":[2,2],"strokeWidth":1},"encoding":{"y":{"field":"g","type":"quantitative","scale":{"domain":[0,100],"nice":false},"axis":{"orient":"right","values":[0,20,30,70,80,100],"tickSize":3,"labels":false,"title":null}}}},
{"data":{"values":[{"v":79.6},{"v":83.5}]},"mark":{"type":"rule","color":"#c4c49c","strokeWidth":1},"encoding":{"x":{"field":"v","type":"quantitative","scale":{"domain":[0.5,468.9],"nice":false,"zero":false},"axis":null}}},
{"data":{"name":"rsi"},"mark":{"type":"line","color":"#4a84ab","strokeWidth":1.2,"clip":true},"encoding":{"x":{"field":"i","type":"quantitative"},"y":{"field":"v","type":"quantitative"}}},
{"data":{"values":[{"t":"RSI(14) 53.2394"}]},"mark":{"type":"text","align":"left","baseline":"middle","fontSize":9.5,"color":"#000"},"encoding":{"x":{"datum":1.5,"type":"quantitative"},"y":{"datum":94,"type":"quantitative"},"text":{"field":"t"}}},
{"data":{"values":[{"g":20},{"g":30},{"g":70},{"g":80}]},"mark":{"type":"text","align":"left","baseline":"middle","fontSize":9,"color":"#000","clip":false},"encoding":{"x":{"datum":470.2,"type":"quantitative"},"y":{"field":"g","type":"quantitative"},"text":{"field":"g"}}},
{"data":{"values":[{"g":100}]},"mark":{"type":"text","align":"left","baseline":"top","fontSize":9,"color":"#000","clip":false},"encoding":{"x":{"datum":470.2,"type":"quantitative"},"y":{"field":"g","type":"quantitative"},"text":{"field":"g"}}},
{"data":{"values":[{"g":0}]},"mark":{"type":"text","align":"left","baseline":"bottom","fontSize":9,"color":"#000","clip":false},"encoding":{"x":{"datum":470.2,"type":"quantitative"},"y":{"field":"g","type":"quantitative"},"text":{"field":"g"}}}
]},
{"width":1761,"height":170,
"layer":[
{"data":{"values":[{"g":20},{"g":80}]},"mark":{"type":"rule","color":"#c0c0c0","strokeDash":[2,2],"strokeWidth":1},"encoding":{"y":{"field":"g","type":"quantitative","scale":{"domain":[0,100],"nice":false},"axis":{"orient":"right","values":[0,20,80,100],"tickSize":3,"labelPadding":2,"labelFontSize":9,"labelFlush":true,"labelOverlap":false,"title":null}}}},
{"data":{"values":[{"v":79.6},{"v":83.5}]},"mark":{"type":"rule","color":"#c4c49c","strokeWidth":1},"encoding":{"x":{"field":"v","type":"quantitative","scale":{"domain":[0.5,468.9],"nice":false,"zero":false},"axis":{"orient":"bottom","values":[0.5,16,32,48,64,80,96,112,128,144,160,176,192,208,224,240,256,272,288,304,320,336,352,368],"labelExpr":"['1 Sep 2017','6 Sep 04:00','8 Sep 20:00','13 Sep 12:00','18 Sep 04:00','20 Sep 20:00','25 Sep 12:00','28 Sep 04:00','2 Oct 20:00','5 Oct 12:00','10 Oct 04:00','12 Oct 20:00','17 Oct 12:00','20 Oct 04:00','24 Oct 20:00','27 Oct 12:00','1 Nov 04:00','3 Nov 20:00','8 Nov 12:00','13 Nov 04:00','15 Nov 20:00','20 Nov 12:00','23 Nov 08:00','28 Nov 00:00'][round(datum.value/16)]","labelAlign":"left","labelFontSize":9.5,"tickSize":3,"labelPadding":1,"labelOverlap":false,"labelFlush":false,"title":null}}}},
{"data":{"name":"sts"},"mark":{"type":"line","color":"#c0392b","strokeWidth":1,"strokeDash":[3,2],"clip":true},"encoding":{"x":{"field":"i","type":"quantitative"},"y":{"field":"s","type":"quantitative"}}},
{"data":{"name":"stm"},"mark":{"type":"line","color":"#5aa8aa","strokeWidth":1.2,"clip":true},"encoding":{"x":{"field":"i","type":"quantitative"},"y":{"field":"s","type":"quantitative"}}},
{"data":{"values":[{"t":"Stoch(21,7,7) 77.9321 81.0496"}]},"mark":{"type":"text","align":"left","baseline":"middle","fontSize":9.5,"color":"#000"},"encoding":{"x":{"datum":1.5,"type":"quantitative"},"y":{"datum":94.5,"type":"quantitative"},"text":{"field":"t"}}},
{"data":{"values":[{}]},"mark":{"type":"rect","fill":"#e09a5e","clip":false},"encoding":{"x":{"datum":69.7,"type":"quantitative"},"x2":{"datum":93.1},"y":{"datum":-2.4,"type":"quantitative"},"y2":{"datum":-8.8}}},
{"data":{"values":[{"t":"2017.09.21 08:00"}]},"mark":{"type":"text","align":"center","baseline":"middle","fontSize":9.5,"color":"#fff4e0","clip":false},"encoding":{"x":{"datum":81.4,"type":"quantitative"},"y":{"datum":-5.6,"type":"quantitative"},"text":{"field":"t"}}},
{"data":{"values":[{}]},"mark":{"type":"rect","fill":"#d9454f","opacity":0.5,"clip":false},"encoding":{"x":{"datum":0.5,"type":"quantitative"},"x2":{"datum":105.6},"y":{"datum":28.8,"type":"quantitative"},"y2":{"datum":-8.8}}},
{"data":{"values":[{"t":"[","i":6.6},{"t":"]","i":96.8}]},"mark":{"type":"text","align":"left","baseline":"alphabetic","font":"Liberation Sans","fontSize":42,"color":"#ffffff","opacity":0.95,"clip":false},"encoding":{"x":{"field":"i","type":"quantitative"},"y":{"datum":0,"type":"quantitative"},"text":{"field":"t"}}},
{"data":{"values":[{"t":"www.instaforex.com"}]},"mark":{"type":"text","align":"left","baseline":"alphabetic","font":"Liberation Sans","fontSize":35,"color":"#ffffff","opacity":0.95,"clip":false},"encoding":{"x":{"datum":13.5,"type":"quantitative"},"y":{"datum":1.8,"type":"quantitative"},"text":{"field":"t"}}}
]}
]
}
